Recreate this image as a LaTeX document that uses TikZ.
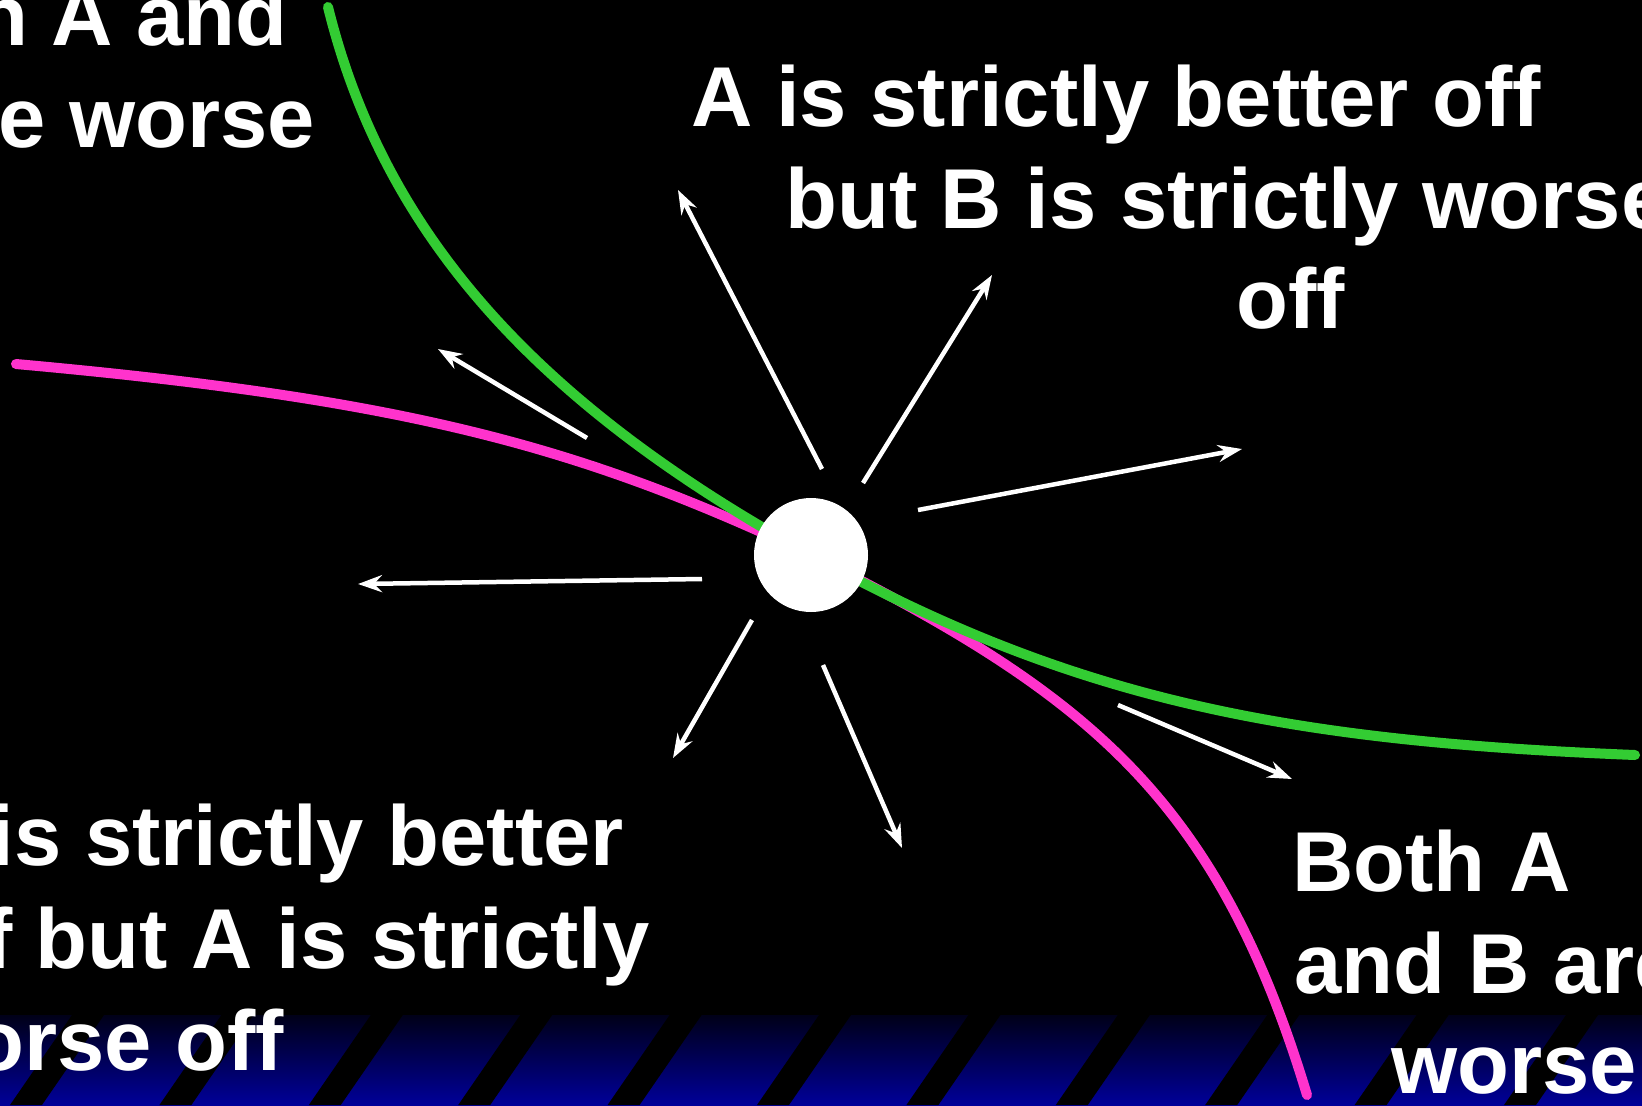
\documentclass[tikz,border=0pt]{standalone}
\usepackage{fontspec}
\setmainfont{Liberation Sans}
\usetikzlibrary{arrows.meta}
\definecolor{grn}{RGB}{51,204,51}
\definecolor{pnk}{RGB}{255,51,204}
\definecolor{bandtop}{RGB}{0,0,24}
\definecolor{bandbot}{RGB}{0,0,153}
\begin{document}
\begin{tikzpicture}[x=1bp,y=-1bp,
  lbl/.style={text=white,inner sep=0pt,font=\fontsize{85.3}{102}\selectfont\bfseries},
  ray/.style={draw=white,line width=4.5bp,-{Stealth[length=24bp,width=17bp,inset=8bp]}},
  curvegreen/.style={draw=grn,line width=10bp,line cap=round},
  curvepink/.style={draw=pnk,line width=10bp,line cap=round},
  stripe/.style={fill=black}]
\useasboundingbox (0,0) rectangle (1642,1105);
\fill[black] (0,0) rectangle (1642,1105);
\shade[top color=bandtop,bottom color=bandbot] (0,1015) rectangle (1642,1105);
\foreach \k in {0,...,10} {
  \fill[stripe] ({10+149.4*\k},1105) -- ++(32,0) -- ++(62,-90) -- ++(-32,0) -- cycle;
}
% curves
\coordinate (pA) at (16,364);
\coordinate (mid) at (811,555);
\coordinate (pB) at (1307,1095);
\coordinate (gA) at (328,7);
\coordinate (gB) at (1635,755);
\draw[curvepink] (pA) .. controls (416,400) and (585,449) .. (mid)
  .. controls (1088,694) and (1217,797) .. (pB);
\draw[curvegreen] (gA) .. controls (383,230) and (531,401) .. (mid)
  .. controls (1074,700) and (1285,741) .. (gB);
% dot
\node[circle,fill=white,minimum size=114bp,inner sep=0pt] (dot) at (mid) {};
% arrows
\coordinate (t1) at (822,469); \coordinate (h1) at (678,190);
\coordinate (t2) at (863,483); \coordinate (h2) at (992,275);
\coordinate (t3) at (918,510); \coordinate (h3) at (1242,449);
\coordinate (t4) at (587,438); \coordinate (h4) at (438,349);
\coordinate (t5) at (702,579); \coordinate (h5) at (358,584);
\coordinate (t6) at (752,620); \coordinate (h6) at (673,758);
\coordinate (t7) at (823,665); \coordinate (h7) at (902,848);
\coordinate (t8) at (1118,705); \coordinate (h8) at (1292,779);
\foreach \i in {1,...,8} { \draw[ray] (t\i) -- (h\i); }
% texts
\node[lbl,anchor=base west] (tr1) at (691,126) {A is strictly better off};
\node[lbl,anchor=base west] (tr2) at (785,228) {but B is strictly worse};
\node[lbl,anchor=base west] (tr3) at (1236,328) {off};
\node[lbl,anchor=base east] (tl1) at (288,45) {n A and};
\node[lbl,anchor=base east] (tl2) at (315,147) {e worse};
\node[lbl,anchor=base east] (bl1) at (624,865) {is strictly better};
\node[lbl,anchor=base east] (bl2) at (650,968) {f but A is strictly};
\node[lbl,anchor=base east] (bl3) at (284,1070) {orse off};
\node[lbl,anchor=base west] (br1) at (1292,891) {Both A};
\node[lbl,anchor=base west] (br2) at (1294,993) {and B are};
\node[lbl,anchor=base west] (br3) at (1391,1093) {worse};
\end{tikzpicture}
\end{document}
